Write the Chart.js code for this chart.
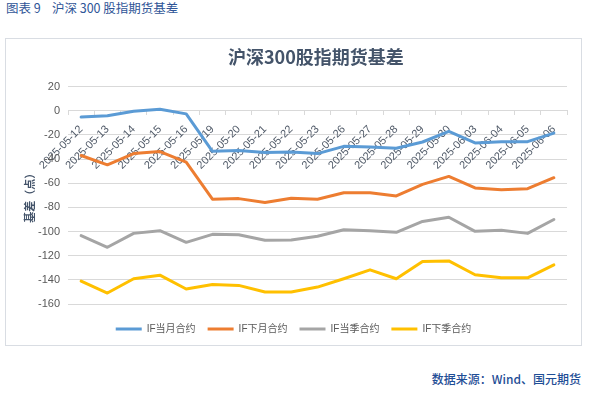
<!DOCTYPE html>
<html><head><meta charset="utf-8">
<script src="https://cdn.jsdelivr.net/npm/chart.js@4"></script>
<style>
html,body{margin:0;padding:0;background:#fff;width:595px;height:394px;overflow:hidden;position:relative;font-family:"Noto Sans CJK SC",sans-serif;}
#cap{position:absolute;left:6px;top:0px;font-size:12.5px;line-height:16px;color:#2f5597;white-space:pre;}
#box{position:absolute;left:5px;top:38px;width:575px;height:306px;border:1px solid #d9dde3;}
#wrap{position:absolute;left:6px;top:39px;width:575px;height:306px;}
#ttl{position:absolute;left:228px;top:45px;font-size:18px;line-height:22px;font-weight:bold;color:#44546a;white-space:nowrap;}
#src{position:absolute;right:14px;top:370px;font-size:12px;line-height:18px;color:#1f4e96;font-weight:500;}
</style></head>
<body>
<div id="cap">图表 9    沪深 300 股指期货基差</div>
<div id="box"></div>
<div id="wrap"><canvas id="c" width="575" height="306"></canvas></div>
<div id="ttl">沪深300股指期货基差</div>
<div id="src">数据来源：Wind、国元期货</div>
<script>
const dates = ['2025-05-12','2025-05-13','2025-05-14','2025-05-15','2025-05-16','2025-05-19','2025-05-20','2025-05-21','2025-05-22','2025-05-23','2025-05-26','2025-05-27','2025-05-28','2025-05-29','2025-05-30','2025-06-03','2025-06-04','2025-06-05','2025-06-06'];
const seriesNames = ['IF当月合约','IF下月合约','IF当季合约','IF下季合约'];
const ifCurrentMonth = [-5.2,-4.1,-0.3,1.4,-2.5,-33.5,-32.8,-34.6,-34.0,-35.4,-29.4,-29.9,-31.0,-25.8,-17.0,-26.6,-25.5,-25.5,-18.4];
const ifNextMonth = [-37.0,-44.7,-35.4,-33.7,-42.5,-73.2,-72.7,-76.0,-72.4,-73.2,-67.8,-67.8,-70.5,-60.9,-54.3,-63.9,-65.3,-64.5,-55.4];
const ifCurrentQuarter = [-103.4,-113.0,-101.5,-99.3,-108.9,-102.3,-102.6,-107.2,-107.0,-103.9,-98.5,-99.3,-100.6,-91.6,-88.1,-99.8,-99.0,-101.5,-90.0];
const ifNextQuarter = [-141.0,-150.9,-139.1,-136.1,-147.6,-143.8,-144.6,-150.1,-150.1,-146.0,-139.1,-131.7,-139.1,-124.8,-124.3,-135.8,-138.3,-138.3,-127.6];
const yTitle = '基差（点）';

const colors = ['#5b9bd5','#ed7d31','#a5a5a5','#ffc000'];
const values = [ifCurrentMonth, ifNextMonth, ifCurrentQuarter, ifNextQuarter];
const fontFam = '"Liberation Sans", "Noto Sans CJK SC", sans-serif';

new Chart(document.getElementById('c'), {
  type: 'line',
  data: {
    labels: dates,
    datasets: values.map((v,i)=>({
      label: seriesNames[i], data: v, borderColor: colors[i], backgroundColor: colors[i],
      borderWidth: 3, pointRadius: 0, tension: 0, borderJoinStyle: 'round', borderCapStyle: 'round', fill: false
    }))
  },
  options: {
    responsive: false, animation: false,
    layout: { padding: { left: 14, right: 14, top: 47.7, bottom: 1 } },
    plugins: {
      title: { display: false },
      tooltip: { enabled: false },
      legend: {
        position: 'bottom',
        labels: {
          boxWidth: 26, boxHeight: 3, padding: 12, color: '#595959',
          font: { family: fontFam, size: 10 },
          generateLabels(chart) {
            return chart.data.datasets.map((d,i)=>({
              text: d.label, fillStyle: d.borderColor, strokeStyle: d.borderColor, lineWidth: 0,
              hidden: false, datasetIndex: i, fontColor: '#595959'
            }));
          }
        }
      }
    },
    scales: {
      x: {
        position: { y: 0 }, offset: true,
        grid: { display: true, drawOnChartArea: false, drawTicks: true, tickLength: 4, color: '#d9d9d9', offset: true },
        border: { display: true, color: '#d9d9d9' },
        ticks: { autoSkip: false, minRotation: 45, maxRotation: 45, padding: 8, color: '#505a68', font: { family: fontFam, size: 11 } }
      },
      sp: {
        type: 'category', axis: 'x', position: 'bottom', labels: [''], display: true,
        grid: { display: false }, border: { display: false }, ticks: { display: false },
        afterFit(s) { s.height = 8; }
      },
      y: {
        min: -160, max: 20,
        ticks: { stepSize: 20, padding: 8, color: '#595959', font: { family: fontFam, size: 11 } },
        grid: { color: '#d9d9d9', drawTicks: false },
        border: { display: false },
        title: { display: true, text: yTitle, color: '#44546a', font: { family: '"Noto Sans CJK SC", sans-serif', size: 11, weight: 'bold' }, padding: { top: 3, bottom: 0 } },
        afterFit(s) { s.width = 48; }
      }
    }
  }
});
</script>
</body></html>
